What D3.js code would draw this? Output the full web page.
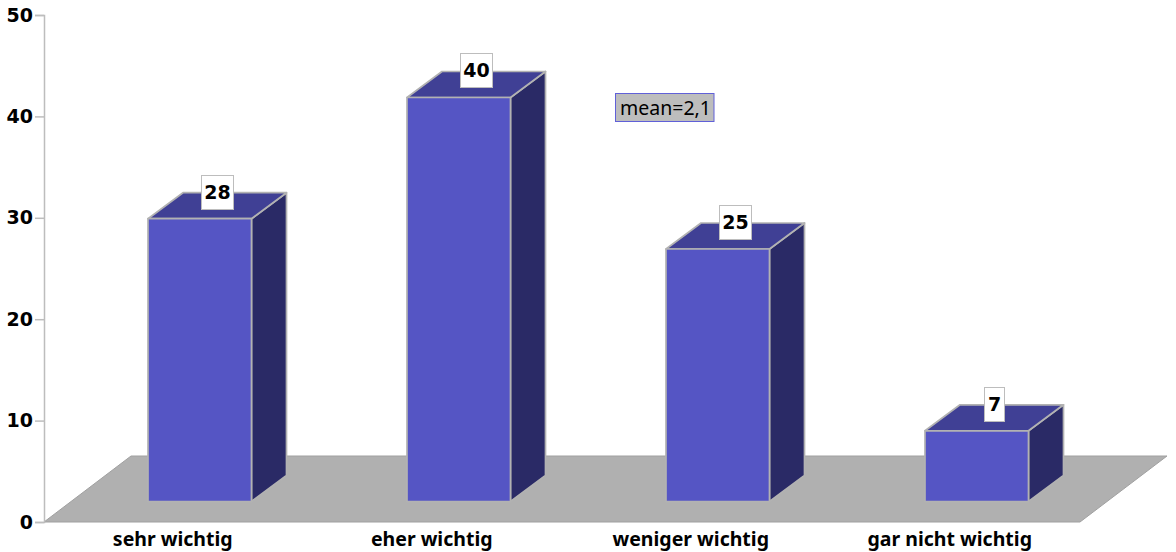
<!DOCTYPE html>
<html><head><meta charset="utf-8">
<script src="https://cdn.jsdelivr.net/npm/d3@7"></script>
<style>html,body{margin:0;padding:0;background:#fff}svg{display:block}</style>
</head><body><svg id="c" width="1176" height="552" font-family='"Noto Sans",sans-serif'></svg>
<script>
const categories=["sehr wichtig","eher wichtig","weniger wichtig","gar nicht wichtig"];
const values=[28,40,25,7];
const tickValues=[0,10,20,30,40,50];
const annotation="mean=2,1";

const depthX=35,depthY=26;
const svg=d3.select("#c");
const y=d3.scaleLinear().domain([0,50]).range([522,15]);
const yBar=d3.scaleLinear().domain([0,50]).range([501.5,-3.5]);
const xPos=d3.scalePoint().domain(d3.range(categories.length)).range([148,925]);
const px=i=>xPos(i);const bw=103.5;
const grey="#b0b0b0",edge="#b2b2b2";
const FONT='"Noto Sans",sans-serif',DIGITS='"DejaVu Sans",sans-serif';

// floor
svg.append("polygon").attr("points",[[44,522],[131,456],[1167,456],[1080,522]].join(" "))
  .attr("fill",grey).attr("stroke","#a0a0a0").attr("stroke-width",1);

// axis
const axis=svg.append("g").attr("transform","translate(44,0)").call(d3.axisLeft(y).tickValues(tickValues).tickSize(9).tickPadding(2).tickFormat(d3.format("d")));
axis.attr("font-family",DIGITS).attr("font-size",19).attr("font-weight","bold");
axis.select(".domain").attr("stroke","#bdbdbd").attr("stroke-width",1.5);
axis.selectAll("line").attr("stroke","#bdbdbd").attr("stroke-width",1.5);
axis.selectAll("text").attr("fill","#000");

// bars
const g=svg.selectAll(".bar").data(values).join("g").attr("class","bar");
const st=s=>s.attr("stroke",edge).attr("stroke-width",1.7).attr("stroke-linejoin","round");
g.append("polygon").attr("fill","#2a2a66").attr("points",(d,i)=>{const r=px(i)+bw,t=yBar(d),b=yBar(0);return [[r,t],[r+depthX,t-depthY],[r+depthX,b-depthY],[r,b]].join(" ")}).call(st);
g.append("polygon").attr("fill","#404095").attr("points",(d,i)=>{const l=px(i),r=l+bw,t=yBar(d);return [[l,t],[r,t],[r+depthX,t-depthY],[l+depthX,t-depthY]].join(" ")}).call(st);
g.append("rect").attr("fill","#5555c4").attr("x",(d,i)=>px(i)).attr("y",d=>yBar(d)).attr("width",bw).attr("height",d=>yBar(0)-yBar(d)).call(st);

// value labels
const lab=svg.selectAll(".lab").data(values).join("g").attr("class","lab")
  .attr("transform",(d,i)=>`translate(${Math.round(px(i)+bw/2+17)+.5},${Math.round(yBar(d)-depthY-1)+.5})`);
lab.append("rect").attr("x",d=>d<10?-10:-16).attr("y",-17).attr("width",d=>d<10?20:32).attr("height",34).attr("fill","#fff").attr("stroke","#bdbdbd").attr("stroke-width",1);
lab.append("text").text(d=>d).attr("text-anchor","middle").attr("dy","0.36em").attr("font-family",DIGITS).attr("font-size",19).attr("font-weight","bold").attr("fill","#000");

// category labels
svg.selectAll(".cat").data(categories).join("text").attr("class","cat").text(d=>d)
  .attr("x",(d,i)=>px(i)+bw/2-27).attr("y",546).attr("text-anchor","middle").attr("font-family",FONT).attr("font-size",19.5).attr("font-weight","bold").attr("fill","#000");

// annotation
svg.append("rect").attr("x",615.5).attr("y",93.5).attr("width",98.5).attr("height",28).attr("fill","#bdbdbd").attr("stroke","#6060d8");
svg.append("text").text(annotation).attr("x",620).attr("y",115).attr("font-family",FONT).attr("font-size",19.5).attr("fill","#000");
</script></body></html>
